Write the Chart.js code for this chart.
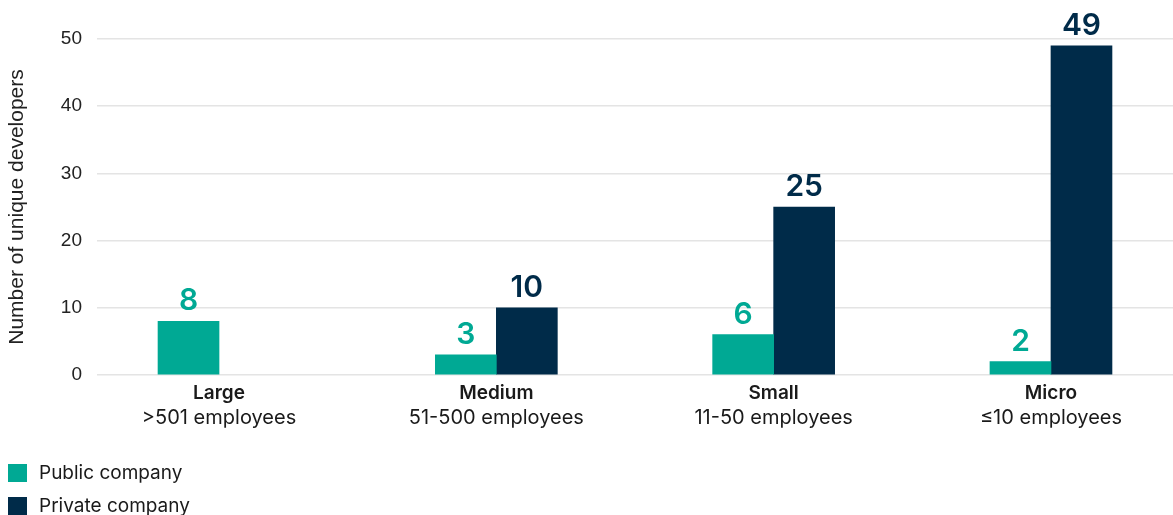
<!DOCTYPE html>
<html lang="en">
  <head>
    <meta charset="UTF-8" />
    <title>Unique developers by company size</title>
    <style>
      * {
        margin: 0;
        padding: 0;
        box-sizing: border-box;
      }
      body {
        width: 1173px;
        height: 515px;
        background: #fff;
        position: relative;
        overflow: hidden;
      }
      .chartBox {
        position: absolute;
        left: 0;
        top: 0;
        width: 1173px;
        height: 515px;
      }
      .legend {
        position: absolute;
        left: 8px;
        top: 456px;
        font-family: "Inter", sans-serif;
        font-size: 19px;
        color: #1a1a1a;
      }
      .legend div {
        display: flex;
        align-items: center;
        height: 33px;
      }
      .legend span.box {
        width: 19px;
        height: 18px;
        margin-right: 12px;
      }
    </style>
  </head>
  <body>
    <div class="chartBox">
      <canvas id="myChart" width="1173" height="515"></canvas>
    </div>
    <div class="legend" id="legend"></div>

    <script src="https://cdn.jsdelivr.net/npm/chart.js"></script>

    <script>
      const categories = ["Large", "Medium", "Small", "Micro"];
      const categorySubLabels = [
        ">501 employees",
        "51-500 employees",
        "11-50 employees",
        "≤10 employees",
      ];
      const seriesNames = ["Public company", "Private company"];
      const publicValues = [8, 3, 6, 2];
      const privateValues = [0, 10, 25, 49];
      const yTicks = [0, 10, 20, 30, 40, 50];

      const colors = ["#00a994", "#002b49"];

      const toPoints = (values) => values.map((v, i) => ({ x: i, y: v }));

      // zero-height bars leave a hairline, so hide them
      const barColor = (color) => (ctx) =>
        ctx.raw && ctx.raw.y === 0 ? "rgba(0,0,0,0)" : color;

      const data = {
        datasets: [
          {
            label: seriesNames[0],
            data: toPoints(publicValues),
            backgroundColor: barColor(colors[0]),
            labelColor: colors[0],
          },
          {
            label: seriesNames[1],
            data: toPoints(privateValues),
            backgroundColor: barColor(colors[1]),
            labelColor: colors[1],
          },
        ],
      };

      // value labels above bars + two-line category labels under the axis
      const barLabels = {
        id: "barLabels",
        afterDatasetsDraw(chart) {
          const { ctx, data, chartArea, scales } = chart;
          ctx.save();
          ctx.textAlign = "center";
          ctx.textBaseline = "alphabetic";
          ctx.font = "600 30px Inter, sans-serif";
          data.datasets.forEach((ds, i) => {
            chart.getDatasetMeta(i).data.forEach((bar, j) => {
              const v = ds.data[j].y;
              if (!v) return;
              ctx.fillStyle = ds.labelColor;
              ctx.fillText(v, bar.x, bar.y - 11);
            });
          });

          ctx.fillStyle = "#1a1a1a";
          ctx.textBaseline = "middle";
          categories.forEach((c, i) => {
            const x = scales.x.getPixelForValue(i);
            ctx.font = "600 19px Inter, sans-serif";
            ctx.fillText(c, x, chartArea.bottom + 18);
            ctx.font = "20px Inter, sans-serif";
            ctx.fillText(categorySubLabels[i], x, chartArea.bottom + 43);
          });
          ctx.restore();
        },
      };

      const config = {
        type: "bar",
        data: data,
        options: {
          responsive: false,
          animation: false,
          events: [],
          layout: {
            padding: { top: 39, bottom: 140, right: 0, left: 0 },
          },
          datasets: {
            bar: {
              barThickness: 61,
            },
          },
          scales: {
            x: {
              type: "linear",
              min: -0.44,
              max: 3.44,
              offset: false,
              display: false,
              afterBuildTicks: (scale) => {
                scale.ticks = categories.map((c, i) => ({ value: i }));
              },
            },
            y: {
              min: 0,
              max: 50,
              afterBuildTicks: (scale) => {
                scale.ticks = yTicks.map((v) => ({ value: v }));
              },
              afterFit: (scale) => {
                scale.width = 97;
              },
              border: { display: false },
              grid: {
                color: "#e4e4e4",
                lineWidth: 1.5,
                drawTicks: false,
              },
              ticks: {
                padding: 15,
                color: "#222",
                font: { family: "'Liberation Sans', Arial, sans-serif", size: 19 },
              },
              title: {
                display: true,
                text: "Number of unique developers",
                color: "#222",
                padding: { top: 5, bottom: 0 },
                font: { family: "'Liberation Sans', Arial, sans-serif", size: 21 },
              },
            },
          },
          plugins: {
            legend: { display: false },
            tooltip: { enabled: false },
          },
        },
        plugins: [barLabels],
      };

      const myChart = new Chart(document.getElementById("myChart"), config);

      const legend = document.getElementById("legend");
      seriesNames.forEach((name, i) => {
        const row = document.createElement("div");
        const box = document.createElement("span");
        box.className = "box";
        box.style.background = colors[i];
        row.appendChild(box);
        row.appendChild(document.createTextNode(name));
        legend.appendChild(row);
      });
    </script>
  </body>
</html>
